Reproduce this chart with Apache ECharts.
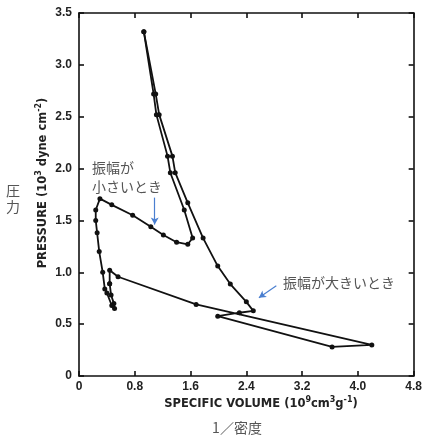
<!DOCTYPE html>
<html><head><meta charset="utf-8">
<script src="https://cdn.jsdelivr.net/npm/echarts@6/dist/echarts.min.js"></script>
<style>html,body{margin:0;padding:0;background:#fff}#c{width:425px;height:436px}</style>
</head><body><div id="c"></div>
<script>
// Small-amplitude loop (specific volume, pressure)
const smallX = [0.44,0.46,0.50,0.51,0.47,0.40,0.37,0.34,0.29,0.26,0.24,0.24,0.30,0.47,0.77,1.03,1.21,1.40,1.56,1.63,1.51,1.31,1.27,1.11,1.07,0.93];
const smallY = [0.89,0.78,0.70,0.65,0.68,0.80,0.84,1.00,1.20,1.38,1.50,1.60,1.71,1.65,1.55,1.44,1.36,1.29,1.27,1.33,1.60,1.96,2.12,2.52,2.72,3.32];
// Large-amplitude loop
const largeX = [0.93,1.10,1.15,1.34,1.38,1.56,1.78,1.99,2.17,2.40,2.50,2.30,1.99,3.63,4.20,1.68,0.56,0.44,0.44];
const largeY = [3.32,2.72,2.52,2.12,1.96,1.67,1.33,1.06,0.886,0.715,0.628,0.61,0.577,0.28,0.30,0.69,0.957,1.02,0.89];
const xTicks = [0, 0.8, 1.6, 2.4, 3.2, 4.0, 4.8];
const yTicks = [0, 0.5, 1.0, 1.5, 2.0, 2.5, 3.0, 3.5];

const zip = (a, b) => a.map((v, i) => [v, b[i]]);
const chart = echarts.init(document.getElementById('c'));
const lblFont = {fontFamily: 'Liberation Sans', fontWeight: 'bold', fontSize: 12, color: '#222'};
const axisCommon = {
  type: 'value', splitLine: {show: false},
  axisLine: {show: true, onZero: false, lineStyle: {color: '#111', width: 1.6}},
  axisTick: {show: true, inside: true, length: 5, lineStyle: {color: '#111', width: 1.6}}
};
const xFmt = v => { const s = xTicks.find(t => Math.abs(t - v) < 1e-6); return v === 0 ? '0' : (s !== undefined ? s.toFixed(1) : ''); };
const yFmt = v => { const s = yTicks.find(t => Math.abs(t - v) < 1e-6); return v === 0 ? '0' : (s !== undefined ? s.toFixed(1) : ''); };
const arrowStyle = {color: '#4a7fd0', width: 1.2, type: 'solid'};
const titleRich = {
  n: {fontFamily: 'DejaVu Sans', fontWeight: 'bold', fontSize: 11.5, fill: '#222', lineHeight: 16},
  s: {fontFamily: 'DejaVu Sans', fontWeight: 'bold', fontSize: 8, fill: '#222', lineHeight: 16, verticalAlign: 'top'}
};

chart.setOption({
  animation: false,
  grid: {left: 79, right: 8, top: 13, bottom: 60},
  xAxis: [
    Object.assign({}, axisCommon, {min: 0, max: 4.8, interval: 0.8, position: 'bottom',
      axisLabel: Object.assign({}, lblFont, {margin: 5, formatter: xFmt})}),
    Object.assign({}, axisCommon, {min: 0, max: 4.8, interval: 0.8, position: 'top', axisLabel: {show: false}})
  ],
  yAxis: [
    Object.assign({}, axisCommon, {min: 0, max: 3.5, interval: 0.5, position: 'left',
      axisLabel: Object.assign({}, lblFont, {margin: 7, formatter: yFmt})}),
    Object.assign({}, axisCommon, {min: 0, max: 3.5, interval: 0.5, position: 'right', axisLabel: {show: false}})
  ],
  series: [
    {type: 'line', name: '振幅が小さいとき', data: zip(smallX, smallY), symbol: 'circle', symbolSize: 5,
     lineStyle: {color: '#111', width: 1.8}, itemStyle: {color: '#111'},
     markLine: {silent: true, symbol: ['none', 'arrow'], symbolSize: [6, 7], label: {show: false}, lineStyle: arrowStyle,
       data: [[{coord: [1.086, 1.72]}, {coord: [1.086, 1.46]}]]}},
    {type: 'line', name: '振幅が大きいとき', data: zip(largeX, largeY), symbol: 'circle', symbolSize: 5,
     lineStyle: {color: '#111', width: 1.8}, itemStyle: {color: '#111'},
     markLine: {silent: true, symbol: ['none', 'arrow'], symbolSize: [6, 7], label: {show: false}, lineStyle: arrowStyle,
       data: [[{coord: [2.83, 0.87]}, {coord: [2.58, 0.755]}]]}}
  ],
  graphic: [
    {type: 'text', left: 92, top: 158, style: {text: '振幅が\n小さいとき', fontFamily: 'Noto Sans CJK JP', fontSize: 14, lineHeight: 19, fill: '#555'}},
    {type: 'text', left: 283, top: 276, style: {text: '振幅が大きいとき', fontFamily: 'Noto Sans CJK JP', fontSize: 14, fill: '#555'}},
    {type: 'text', left: 6, top: 183, style: {text: '圧\n力', fontFamily: 'Noto Sans CJK JP', fontSize: 14, lineHeight: 16, fill: '#555'}},
    {type: 'text', x: 43, y: 183, rotation: Math.PI / 2, style: {text: '{n|PRESSURE (10}{s|3}{n| dyne cm}{s|-2}{n|)}', rich: titleRich, align: 'center', verticalAlign: 'middle'}},
    {type: 'text', x: 261, y: 404, style: {text: '{n|SPECIFIC VOLUME (10}{s|9}{n|cm}{s|3}{n|g}{s|-1}{n|)}', rich: titleRich, align: 'center', verticalAlign: 'middle'}},
    {type: 'text', x: 237, y: 428, style: {text: '1／密度', fontFamily: 'Noto Sans CJK JP', fontSize: 14, fill: '#555', align: 'center', verticalAlign: 'middle'}}
  ]
});
</script></body></html>
